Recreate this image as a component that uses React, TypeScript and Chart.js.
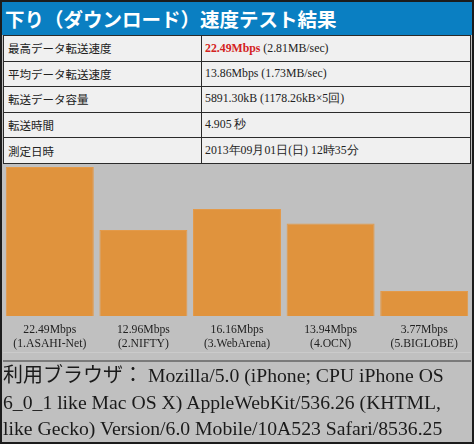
import React, { useEffect, useRef } from "react";
import { Chart, registerables } from "chart.js";

Chart.register(...registerables);

const providers = ["1.ASAHI-Net", "2.NIFTY", "3.WebArena", "4.OCN", "5.BIGLOBE"];
const speeds = [22.49, 12.96, 16.16, 13.94, 3.77];
const speedLabels = ["22.49Mbps", "12.96Mbps", "16.16Mbps", "13.94Mbps", "3.77Mbps"];

const rowNames = ["最高データ転送速度", "平均データ転送速度", "転送データ容量", "転送時間", "測定日時"];
const rowValues = [
  "(2.81MB/sec)",
  "13.86Mbps (1.73MB/sec)",
  "5891.30kB (1178.26kB×5回)",
  "4.905 秒",
  "2013年09月01日(日) 12時35分",
];
const peakLabel = "22.49Mbps";
const title = "下り（ダウンロード）速度テスト結果";
const browserLines = [
  "Mozilla/5.0 (iPhone; CPU iPhone OS",
  "6_0_1 like Mac OS X) AppleWebKit/536.26 (KHTML,",
  "like Gecko) Version/6.0 Mobile/10A523 Safari/8536.25",
];

const SERIF = '"Liberation Serif", "Times New Roman", serif';
const GOTHIC = '"Noto Sans CJK JP", "Noto Sans", sans-serif';

function SpeedChart() {
  const ref = useRef<HTMLCanvasElement | null>(null);
  useEffect(() => {
    if (!ref.current) return;
    const chart = new Chart(ref.current, {
      type: "bar",
      data: {
        labels: providers.map((p, i) => [speedLabels[i], "(" + p + ")"]),
        datasets: [
          {
            data: speeds,
            backgroundColor: "#e0933d",
            borderColor: "#e39a4a",
            borderWidth: 1,
            categoryPercentage: 0.94,
            barPercentage: 1,
          },
        ],
      },
      options: {
        animation: false,
        responsive: false,
        maintainAspectRatio: false,
        layout: { padding: { top: 3, bottom: 3, left: 0, right: 0 } },
        plugins: { legend: { display: false }, tooltip: { enabled: false } },
        scales: {
          y: { display: false, min: 0, max: Math.max(...speeds) },
          x: {
            grid: { display: false, drawTicks: false },
            border: { display: false },
            ticks: {
              color: "#222",
              padding: 7,
              maxRotation: 0,
              autoSkip: false,
              font: { family: SERIF, size: 11.7, lineHeight: 1.2 },
            },
          },
        },
      },
    });
    return () => chart.destroy();
  }, []);
  return <canvas ref={ref} width={468} height={197} style={{ width: 468, height: 197, display: "block" }} />;
}

export default function App() {
  useEffect(() => {
    document.body.style.margin = "0";
  }, []);
  const rowH = 25.6;
  return (
    <div
      style={{
        position: "relative",
        width: 474,
        height: 444,
        boxSizing: "border-box",
        border: "2px solid #1c1c1c",
        background: "#c0c0c0",
        overflow: "hidden",
      }}
    >
      <div
        style={{
          position: "absolute",
          left: 0,
          top: 0,
          width: 470,
          height: 33,
          background: "#0a7fc2",
          color: "#fff",
          fontFamily: GOTHIC,
          fontWeight: "bold",
          fontSize: 19.5,
          lineHeight: "33px",
          paddingLeft: 3,
          boxSizing: "border-box",
          whiteSpace: "nowrap",
        }}
      >
        {title}
      </div>
      {rowNames.map((name, i) => (
        <div
          key={i}
          style={{
            position: "absolute",
            left: 1,
            top: 33 + i * rowH,
            width: 468,
            height: rowH + 1,
            boxSizing: "border-box",
            border: "1px solid #2a2a2a",
            background: "#f0f0f0",
            display: "flex",
          }}
        >
          <div
            style={{
              width: 193,
              borderRight: "1px solid #2a2a2a",
              fontFamily: GOTHIC,
              fontSize: 11.5,
              color: "#222",
              paddingLeft: 4,
              display: "flex",
              alignItems: "center",
              whiteSpace: "nowrap",
            }}
          >
            {name}
          </div>
          <div
            style={{
              flex: 1,
              fontFamily: SERIF,
              fontSize: 11.8,
              color: "#222",
              paddingLeft: 3,
              display: "flex",
              alignItems: "center",
              whiteSpace: "pre",
            }}
          >
            {i === 0 ? (
              <>
                <span style={{ color: "#d42222", fontWeight: "bold" }}>{peakLabel}</span>
                {" " + rowValues[i]}
              </>
            ) : (
              rowValues[i]
            )}
          </div>
        </div>
      ))}
      <div style={{ position: "absolute", left: 1, top: 162 }}>
        <SpeedChart />
      </div>
      <div
        style={{ position: "absolute", left: 1, top: 350, width: 468, height: 1, background: "#cbcbcb" }}
      />
      <div
        style={{ position: "absolute", left: 1, top: 358, width: 468, height: 1.5, background: "#7a7a7a" }}
      />
      <div
        style={{
          position: "absolute",
          left: 1,
          top: 359,
          width: 468,
          fontFamily: SERIF,
          fontSize: 19.7,
          lineHeight: "26.5px",
          color: "#1a1a1a",
          whiteSpace: "nowrap",
        }}
      >
        <div>
          <span style={{ fontFamily: GOTHIC, fontSize: 20 }}>利用ブラウザ：</span> {browserLines[0]}
        </div>
        <div>{browserLines[1]}</div>
        <div>{browserLines[2]}</div>
      </div>
    </div>
  );
}
